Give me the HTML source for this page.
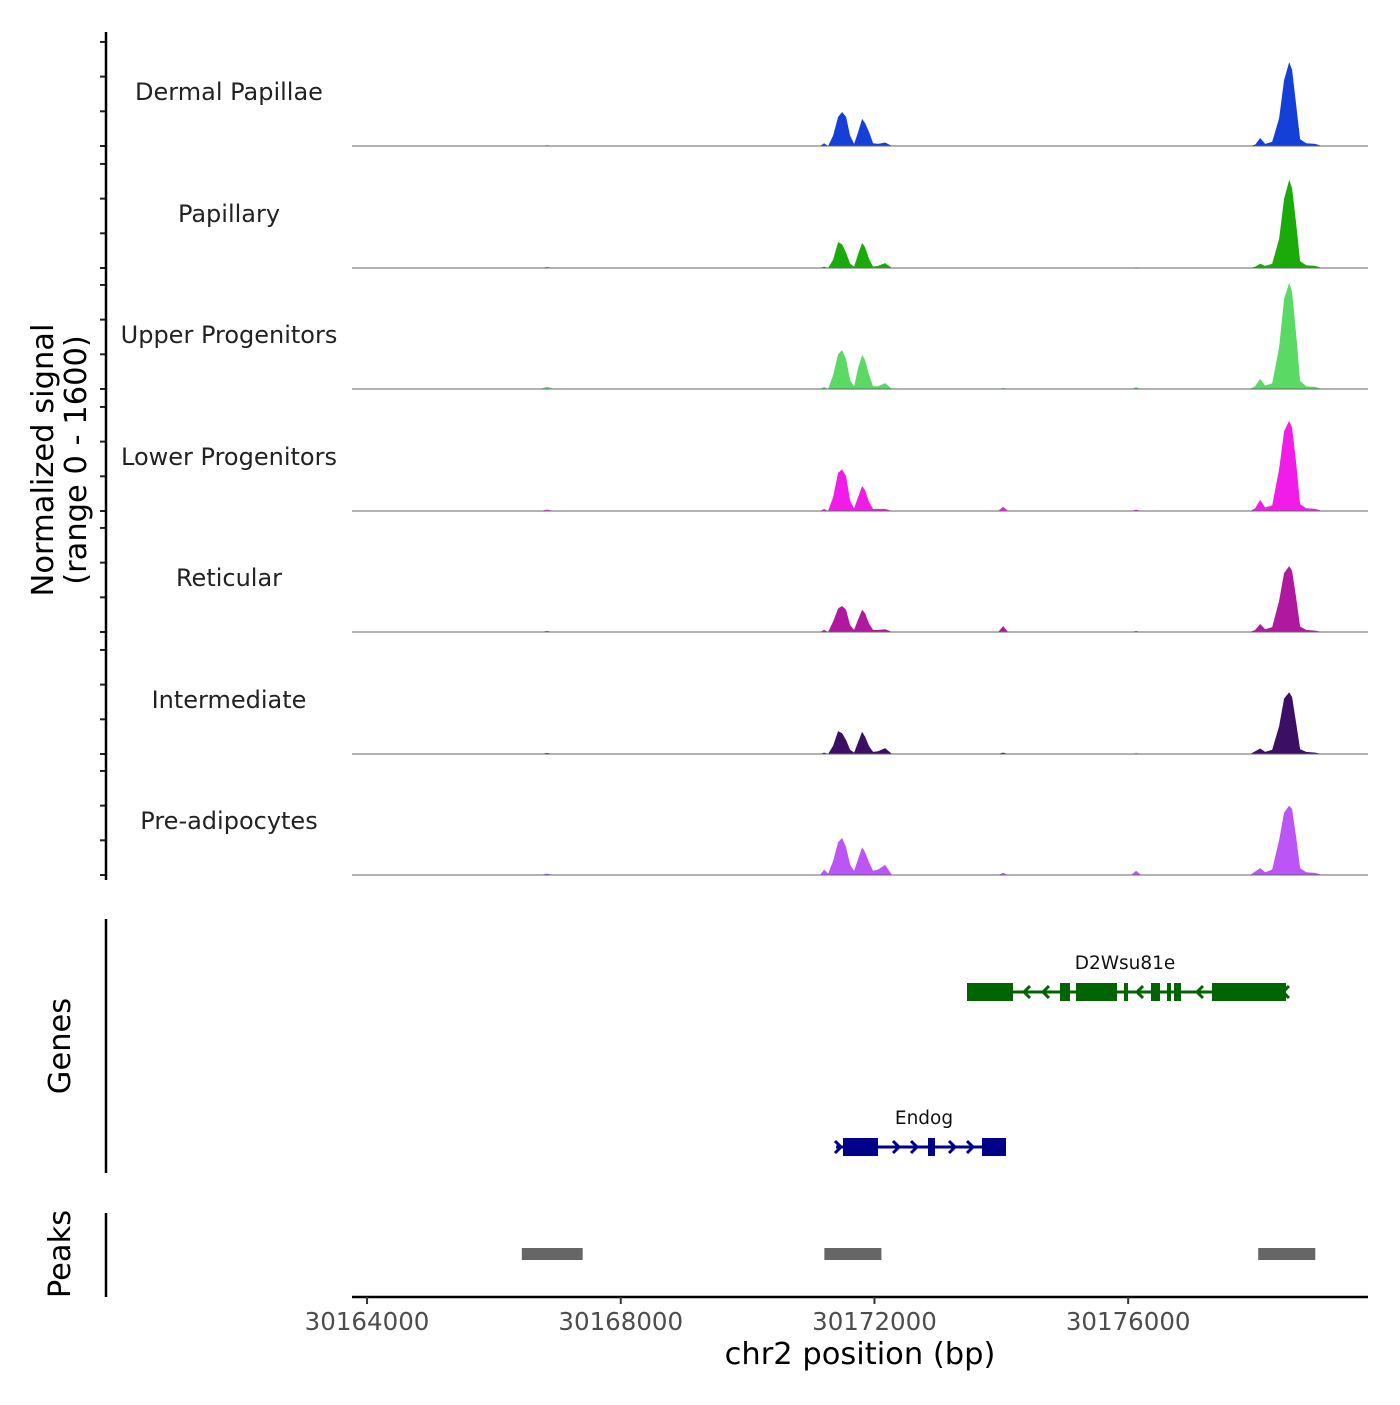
<!DOCTYPE html>
<html><head><meta charset="utf-8"><style>
body{margin:0;background:#fff}
svg{font-family:"DejaVu Sans","Liberation Sans",sans-serif}
</style></head><body>
<svg id="chart" width="1400" height="1400" viewBox="0 0 1400 1400" xmlns="http://www.w3.org/2000/svg">
<g id="tracks"></g>
<g id="axes"></g>
<g id="genes"></g>
<g id="peaks"></g>
</svg>
<script>
const trackNames = ["Dermal Papillae","Papillary","Upper Progenitors","Lower Progenitors","Reticular","Intermediate","Pre-adipocytes"];
const trackColors = ["#1540d8","#1aab0a","#5ad965","#f21ce8","#b0199f","#3b0f63","#bb55f5"];
const binPos = [30163763,30166727,30166838,30166948,30171143,30171206,30171269,30171348,30171427,30171490,30171553,30171616,30171679,30171742,30171805,30171853,30171916,30171979,30172058,30172168,30172278,30173949,30174028,30174107,30176047,30176125,30176204,30177923,30178002,30178081,30178160,30178270,30178380,30178459,30178538,30178585,30178648,30178711,30178806,30178948,30179058,30179781];
const dermal = [0,0,10,0,0,40,0,150,420,490,420,150,30,200,390,330,200,40,30,50,0,0,0,0,0,0,0,0,20,115,30,60,400,950,1210,1100,600,100,40,30,0,0];
const papillary = [0,0,15,0,0,20,0,120,375,340,220,60,20,200,360,300,130,20,30,70,0,0,0,0,0,10,0,0,20,60,30,60,420,1000,1270,1150,650,100,40,30,0,0];
const upper = [0,0,30,0,0,30,0,200,500,560,430,130,40,300,490,420,200,40,40,85,0,0,15,0,0,25,0,0,40,145,50,80,600,1300,1530,1400,800,120,40,30,0,0];
const lower = [0,0,20,0,0,30,0,200,550,600,500,150,40,200,360,300,130,30,30,30,0,0,60,0,0,20,0,0,40,160,50,80,600,1150,1300,1200,700,100,40,30,0,0];
const reticular = [0,0,15,0,0,30,0,150,340,375,320,100,30,180,320,270,120,30,30,40,0,0,85,0,0,15,0,0,30,115,40,70,450,850,950,880,500,80,30,20,0,0];
const intermediate = [0,0,15,0,0,20,0,120,330,300,200,60,20,170,320,250,110,30,40,85,0,0,20,0,0,10,0,0,40,80,30,60,400,800,890,820,450,70,30,20,0,0];
const preadipo = [0,0,20,0,0,80,20,200,470,535,400,150,60,230,400,330,180,60,80,145,0,0,30,0,0,60,0,0,50,100,40,80,500,900,1000,950,550,100,40,30,0,0];
const seriesValues = [dermal,papillary,upper,lower,reticular,intermediate,preadipo];
const xTicks = [30164000,30168000,30172000,30176000];
const peakStarts = [30166440,30171210,30178050];
const peakEnds = [30167400,30172110,30178950];

const NS="http://www.w3.org/2000/svg";
const X0=352,X1=1368,BP0=30163763,BP1=30179781;
function xs(bp){return X0+(bp-BP0)*(X1-X0)/(BP1-BP0);}
const baselines=[146,268,389,511,632,754,875];
function ys(v,i){return baselines[i]-v*111/1600;}
function mk(tag,attrs,parent,text){const e=document.createElementNS(NS,tag);for(const k in attrs)e.setAttribute(k,attrs[k]);if(text!==undefined)e.textContent=text;parent.appendChild(e);return e;}

const tg=document.getElementById('tracks');
seriesValues.forEach((vals,i)=>{
  let d=`M${xs(binPos[0])},${baselines[i]}`;
  vals.forEach((v,j)=>{d+=` L${xs(binPos[j]).toFixed(1)},${ys(v,i).toFixed(1)}`;});
  d+=` L${xs(binPos[binPos.length-1])},${baselines[i]} Z`;
  const p=mk('path',{d:d,fill:trackColors[i]},tg);
  
  
  const bl=mk('line',{x1:X0,x2:X1,y1:baselines[i],y2:baselines[i],stroke:'#666',"stroke-width":1},tg);
  
  
  const t=mk('text',{x:229,y:baselines[i]-46,"text-anchor":"middle","font-size":24,fill:"#222"},tg,trackNames[i]);
  
  
  [0,500,1000,1500].forEach(v=>{
    const tk=mk('line',{x1:100,x2:106,y1:ys(v,i),y2:ys(v,i),stroke:'#222',"stroke-width":2},tg);
    
    
  });
});

const ax=document.getElementById('axes');
mk('line',{x1:106,x2:106,y1:32,y2:880,stroke:'#000',"stroke-width":2.5},ax);
mk('line',{x1:106,x2:106,y1:919,y2:1173,stroke:'#000',"stroke-width":2.5},ax);
mk('line',{x1:106,x2:106,y1:1213,y2:1297,stroke:'#000',"stroke-width":2.5},ax);
mk('line',{x1:X0,x2:X1,y1:1297,y2:1297,stroke:'#000',"stroke-width":2.5},ax);
const yl=mk('text',{transform:"translate(53,460) rotate(-90)","text-anchor":"middle","font-size":30.5,fill:"#000"},ax,"Normalized signal");


const yl2=mk('text',{transform:"translate(86,460) rotate(-90)","text-anchor":"middle","font-size":30.5,fill:"#000"},ax,"(range 0 - 1600)");


const gl=mk('text',{transform:"translate(70,1046) rotate(-90)","text-anchor":"middle","font-size":30.5,fill:"#000"},ax,"Genes");


const pl=mk('text',{transform:"translate(70,1254) rotate(-90)","text-anchor":"middle","font-size":30.5,fill:"#000"},ax,"Peaks");


xTicks.forEach(t=>{
  const x=xs(t);
  const l=mk('line',{x1:x,x2:x,y1:1297,y2:1304,stroke:'#333',"stroke-width":2},ax);
  
  
  const tx=mk('text',{x:x,y:1330,"text-anchor":"middle","font-size":24.5,fill:"#4d4d4d"},ax,String(t));
  
  
});
const xt=mk('text',{x:860,y:1364,"text-anchor":"middle","font-size":30.5,fill:"#000"},ax,"chr2 position (bp)");



const gg=document.getElementById('genes');
function gene(name,y,x0,x1,exons,col,dir,chev,labelX){
  const g=mk('g',{},gg);
  
  
  mk('line',{x1:x0,x2:x1,y1:y,y2:y,stroke:col,"stroke-width":3},g);
  exons.forEach(e=>mk('rect',{x:e[0],y:y-9,width:e[1]-e[0],height:18,fill:col},g));
  chev.forEach(c=>mk('path',{d:dir>0?`M${c-4},${y-6} L${c+2},${y} L${c-4},${y+6}`:`M${c+4},${y-6} L${c-2},${y} L${c+4},${y+6}`,fill:'none',stroke:col,"stroke-width":3},g));
  mk('text',{x:labelX,y:y-23,"text-anchor":"middle","font-size":18.5,fill:"#111"},g,name);
}
gene("D2Wsu81e",992,967,1286,[[967,1013],[1060,1070],[1076,1117],[1124,1128],[1151,1160],[1167,1171],[1174,1181],[1212,1286]],"#006400",-1,[1026,1045,1139,1199,1216,1285],1125);
gene("Endog",1147,836,1006,[[843,878],[928,935],[982,1006]],"#00008b",1,[839,897,915,953,971],924);

const pg=document.getElementById('peaks');
peakStarts.forEach((s,i)=>{
  const r=mk('rect',{x:xs(s),y:1248,width:xs(peakEnds[i])-xs(s),height:12,fill:"#666"},pg);
  
  
});
</script>
</body></html>
